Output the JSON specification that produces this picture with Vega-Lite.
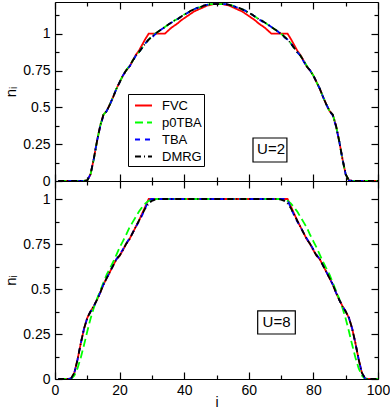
{
  "$schema": "https://vega.github.io/schema/vega-lite/v6.json",
  "padding": {"left": 3, "top": 1, "right": 5, "bottom": 0},
  "config": {
    "view": {"stroke": null},
    "font": "Liberation Sans",
    "axis": {
      "domainColor": "black", "tickColor": "black", "labelColor": "black", "titleColor": "black",
      "labelFont": "Liberation Sans", "titleFont": "Liberation Sans", "labelFontSize": 14, "titleFontSize": 15,
      "titleFontWeight": "normal", "grid": false, "domainWidth": 1.2, "tickWidth": 1.2,
      "labelOverlap": false, "labelFlush": false, "minExtent": 0
    }
  },
  "datasets": {
    "u2": [
      {"i":1,"FVC":0,"p0TBA":0,"TBA":0,"DMRG":0},
      {"i":2,"FVC":0,"p0TBA":0,"TBA":0,"DMRG":0},
      {"i":3,"FVC":0,"p0TBA":0,"TBA":0,"DMRG":0},
      {"i":4,"FVC":0,"p0TBA":0,"TBA":0,"DMRG":0},
      {"i":5,"FVC":0,"p0TBA":0,"TBA":0,"DMRG":0},
      {"i":6,"FVC":0,"p0TBA":0,"TBA":0,"DMRG":0},
      {"i":7,"FVC":0,"p0TBA":0,"TBA":0,"DMRG":0},
      {"i":8,"FVC":0,"p0TBA":0,"TBA":0,"DMRG":0},
      {"i":9,"FVC":0,"p0TBA":0,"TBA":0,"DMRG":0},
      {"i":10,"FVC":0.005,"p0TBA":0.005,"TBA":0.005,"DMRG":0.005},
      {"i":11,"FVC":0.045,"p0TBA":0.045,"TBA":0.045,"DMRG":0.045},
      {"i":12,"FVC":0.15,"p0TBA":0.145,"TBA":0.15,"DMRG":0.15},
      {"i":13,"FVC":0.27,"p0TBA":0.27,"TBA":0.27,"DMRG":0.27},
      {"i":14,"FVC":0.375,"p0TBA":0.375,"TBA":0.37,"DMRG":0.375},
      {"i":15,"FVC":0.45,"p0TBA":0.45,"TBA":0.445,"DMRG":0.45},
      {"i":16,"FVC":0.475,"p0TBA":0.475,"TBA":0.475,"DMRG":0.475},
      {"i":17,"FVC":0.52,"p0TBA":0.52,"TBA":0.52,"DMRG":0.52},
      {"i":18,"FVC":0.57,"p0TBA":0.57,"TBA":0.57,"DMRG":0.57},
      {"i":19,"FVC":0.625,"p0TBA":0.625,"TBA":0.625,"DMRG":0.625},
      {"i":20,"FVC":0.67,"p0TBA":0.67,"TBA":0.67,"DMRG":0.67},
      {"i":21,"FVC":0.715,"p0TBA":0.715,"TBA":0.715,"DMRG":0.715},
      {"i":22,"FVC":0.75,"p0TBA":0.75,"TBA":0.75,"DMRG":0.75},
      {"i":23,"FVC":0.775,"p0TBA":0.78,"TBA":0.775,"DMRG":0.775},
      {"i":24,"FVC":0.815,"p0TBA":0.815,"TBA":0.81,"DMRG":0.815},
      {"i":25,"FVC":0.855,"p0TBA":0.85,"TBA":0.85,"DMRG":0.85},
      {"i":26,"FVC":0.885,"p0TBA":0.875,"TBA":0.875,"DMRG":0.875},
      {"i":27,"FVC":0.925,"p0TBA":0.905,"TBA":0.905,"DMRG":0.905},
      {"i":28,"FVC":0.965,"p0TBA":0.935,"TBA":0.935,"DMRG":0.935},
      {"i":29,"FVC":1,"p0TBA":0.96,"TBA":0.96,"DMRG":0.96},
      {"i":30,"FVC":1,"p0TBA":0.98,"TBA":0.975,"DMRG":0.98},
      {"i":31,"FVC":1,"p0TBA":1,"TBA":0.995,"DMRG":1},
      {"i":32,"FVC":1,"p0TBA":1.015,"TBA":1.015,"DMRG":1.015},
      {"i":33,"FVC":1,"p0TBA":1.03,"TBA":1.03,"DMRG":1.03},
      {"i":34,"FVC":1,"p0TBA":1.045,"TBA":1.045,"DMRG":1.045},
      {"i":35,"FVC":1.02,"p0TBA":1.06,"TBA":1.06,"DMRG":1.06},
      {"i":36,"FVC":1.04,"p0TBA":1.075,"TBA":1.075,"DMRG":1.075},
      {"i":37,"FVC":1.055,"p0TBA":1.09,"TBA":1.085,"DMRG":1.09},
      {"i":38,"FVC":1.07,"p0TBA":1.1,"TBA":1.1,"DMRG":1.1},
      {"i":39,"FVC":1.09,"p0TBA":1.115,"TBA":1.115,"DMRG":1.115},
      {"i":40,"FVC":1.105,"p0TBA":1.13,"TBA":1.13,"DMRG":1.13},
      {"i":41,"FVC":1.12,"p0TBA":1.14,"TBA":1.14,"DMRG":1.14},
      {"i":42,"FVC":1.135,"p0TBA":1.155,"TBA":1.155,"DMRG":1.155},
      {"i":43,"FVC":1.15,"p0TBA":1.165,"TBA":1.165,"DMRG":1.165},
      {"i":44,"FVC":1.16,"p0TBA":1.175,"TBA":1.175,"DMRG":1.175},
      {"i":45,"FVC":1.17,"p0TBA":1.18,"TBA":1.18,"DMRG":1.18},
      {"i":46,"FVC":1.18,"p0TBA":1.19,"TBA":1.19,"DMRG":1.19},
      {"i":47,"FVC":1.19,"p0TBA":1.195,"TBA":1.195,"DMRG":1.195},
      {"i":48,"FVC":1.195,"p0TBA":1.2,"TBA":1.2,"DMRG":1.2},
      {"i":49,"FVC":1.2,"p0TBA":1.2,"TBA":1.2,"DMRG":1.2},
      {"i":50,"FVC":1.2,"p0TBA":1.2,"TBA":1.2,"DMRG":1.2},
      {"i":51,"FVC":1.2,"p0TBA":1.2,"TBA":1.2,"DMRG":1.2},
      {"i":52,"FVC":1.2,"p0TBA":1.2,"TBA":1.2,"DMRG":1.2},
      {"i":53,"FVC":1.195,"p0TBA":1.2,"TBA":1.2,"DMRG":1.2},
      {"i":54,"FVC":1.19,"p0TBA":1.195,"TBA":1.195,"DMRG":1.195},
      {"i":55,"FVC":1.18,"p0TBA":1.19,"TBA":1.19,"DMRG":1.19},
      {"i":56,"FVC":1.17,"p0TBA":1.18,"TBA":1.18,"DMRG":1.18},
      {"i":57,"FVC":1.16,"p0TBA":1.175,"TBA":1.175,"DMRG":1.175},
      {"i":58,"FVC":1.15,"p0TBA":1.165,"TBA":1.165,"DMRG":1.165},
      {"i":59,"FVC":1.135,"p0TBA":1.155,"TBA":1.155,"DMRG":1.155},
      {"i":60,"FVC":1.12,"p0TBA":1.14,"TBA":1.14,"DMRG":1.14},
      {"i":61,"FVC":1.105,"p0TBA":1.13,"TBA":1.13,"DMRG":1.13},
      {"i":62,"FVC":1.09,"p0TBA":1.115,"TBA":1.115,"DMRG":1.115},
      {"i":63,"FVC":1.07,"p0TBA":1.1,"TBA":1.1,"DMRG":1.1},
      {"i":64,"FVC":1.055,"p0TBA":1.09,"TBA":1.085,"DMRG":1.09},
      {"i":65,"FVC":1.04,"p0TBA":1.075,"TBA":1.075,"DMRG":1.075},
      {"i":66,"FVC":1.02,"p0TBA":1.06,"TBA":1.06,"DMRG":1.06},
      {"i":67,"FVC":1,"p0TBA":1.045,"TBA":1.045,"DMRG":1.045},
      {"i":68,"FVC":1,"p0TBA":1.03,"TBA":1.03,"DMRG":1.03},
      {"i":69,"FVC":1,"p0TBA":1.015,"TBA":1.015,"DMRG":1.015},
      {"i":70,"FVC":1,"p0TBA":1,"TBA":0.995,"DMRG":1},
      {"i":71,"FVC":1,"p0TBA":0.98,"TBA":0.975,"DMRG":0.98},
      {"i":72,"FVC":1,"p0TBA":0.96,"TBA":0.96,"DMRG":0.96},
      {"i":73,"FVC":0.965,"p0TBA":0.935,"TBA":0.935,"DMRG":0.935},
      {"i":74,"FVC":0.925,"p0TBA":0.905,"TBA":0.905,"DMRG":0.905},
      {"i":75,"FVC":0.885,"p0TBA":0.875,"TBA":0.875,"DMRG":0.875},
      {"i":76,"FVC":0.855,"p0TBA":0.85,"TBA":0.85,"DMRG":0.85},
      {"i":77,"FVC":0.815,"p0TBA":0.815,"TBA":0.81,"DMRG":0.815},
      {"i":78,"FVC":0.775,"p0TBA":0.78,"TBA":0.775,"DMRG":0.775},
      {"i":79,"FVC":0.75,"p0TBA":0.75,"TBA":0.75,"DMRG":0.75},
      {"i":80,"FVC":0.715,"p0TBA":0.715,"TBA":0.715,"DMRG":0.715},
      {"i":81,"FVC":0.67,"p0TBA":0.67,"TBA":0.67,"DMRG":0.67},
      {"i":82,"FVC":0.625,"p0TBA":0.625,"TBA":0.625,"DMRG":0.625},
      {"i":83,"FVC":0.57,"p0TBA":0.57,"TBA":0.57,"DMRG":0.57},
      {"i":84,"FVC":0.52,"p0TBA":0.52,"TBA":0.52,"DMRG":0.52},
      {"i":85,"FVC":0.475,"p0TBA":0.475,"TBA":0.475,"DMRG":0.475},
      {"i":86,"FVC":0.45,"p0TBA":0.45,"TBA":0.445,"DMRG":0.45},
      {"i":87,"FVC":0.375,"p0TBA":0.375,"TBA":0.37,"DMRG":0.375},
      {"i":88,"FVC":0.27,"p0TBA":0.27,"TBA":0.27,"DMRG":0.27},
      {"i":89,"FVC":0.15,"p0TBA":0.145,"TBA":0.15,"DMRG":0.15},
      {"i":90,"FVC":0.045,"p0TBA":0.045,"TBA":0.045,"DMRG":0.045},
      {"i":91,"FVC":0.005,"p0TBA":0.005,"TBA":0.005,"DMRG":0.005},
      {"i":92,"FVC":0,"p0TBA":0,"TBA":0,"DMRG":0},
      {"i":93,"FVC":0,"p0TBA":0,"TBA":0,"DMRG":0},
      {"i":94,"FVC":0,"p0TBA":0,"TBA":0,"DMRG":0},
      {"i":95,"FVC":0,"p0TBA":0,"TBA":0,"DMRG":0},
      {"i":96,"FVC":0,"p0TBA":0,"TBA":0,"DMRG":0},
      {"i":97,"FVC":0,"p0TBA":0,"TBA":0,"DMRG":0},
      {"i":98,"FVC":0,"p0TBA":0,"TBA":0,"DMRG":0},
      {"i":99,"FVC":0,"p0TBA":0,"TBA":0,"DMRG":0},
      {"i":100,"FVC":0,"p0TBA":0,"TBA":0,"DMRG":0}
    ],
    "u8": [
      {"i":1,"FVC":0,"p0TBA":0,"TBA":0,"DMRG":0},
      {"i":2,"FVC":0,"p0TBA":0,"TBA":0,"DMRG":0},
      {"i":3,"FVC":0,"p0TBA":0,"TBA":0,"DMRG":0},
      {"i":4,"FVC":0,"p0TBA":0,"TBA":0,"DMRG":0},
      {"i":5,"FVC":0.003,"p0TBA":0,"TBA":0.003,"DMRG":0.003},
      {"i":6,"FVC":0.035,"p0TBA":0.02,"TBA":0.035,"DMRG":0.035},
      {"i":7,"FVC":0.11,"p0TBA":0.06,"TBA":0.11,"DMRG":0.11},
      {"i":8,"FVC":0.2,"p0TBA":0.12,"TBA":0.2,"DMRG":0.2},
      {"i":9,"FVC":0.28,"p0TBA":0.19,"TBA":0.28,"DMRG":0.28},
      {"i":10,"FVC":0.34,"p0TBA":0.265,"TBA":0.34,"DMRG":0.34},
      {"i":11,"FVC":0.375,"p0TBA":0.335,"TBA":0.375,"DMRG":0.375},
      {"i":12,"FVC":0.405,"p0TBA":0.395,"TBA":0.405,"DMRG":0.405},
      {"i":13,"FVC":0.44,"p0TBA":0.445,"TBA":0.44,"DMRG":0.44},
      {"i":14,"FVC":0.48,"p0TBA":0.49,"TBA":0.48,"DMRG":0.48},
      {"i":15,"FVC":0.525,"p0TBA":0.535,"TBA":0.525,"DMRG":0.525},
      {"i":16,"FVC":0.56,"p0TBA":0.58,"TBA":0.56,"DMRG":0.56},
      {"i":17,"FVC":0.595,"p0TBA":0.615,"TBA":0.595,"DMRG":0.595},
      {"i":18,"FVC":0.63,"p0TBA":0.65,"TBA":0.63,"DMRG":0.63},
      {"i":19,"FVC":0.665,"p0TBA":0.69,"TBA":0.665,"DMRG":0.665},
      {"i":20,"FVC":0.685,"p0TBA":0.73,"TBA":0.69,"DMRG":0.685},
      {"i":21,"FVC":0.715,"p0TBA":0.765,"TBA":0.72,"DMRG":0.715},
      {"i":22,"FVC":0.75,"p0TBA":0.8,"TBA":0.75,"DMRG":0.75},
      {"i":23,"FVC":0.775,"p0TBA":0.84,"TBA":0.78,"DMRG":0.775},
      {"i":24,"FVC":0.81,"p0TBA":0.87,"TBA":0.81,"DMRG":0.81},
      {"i":25,"FVC":0.845,"p0TBA":0.9,"TBA":0.845,"DMRG":0.845},
      {"i":26,"FVC":0.88,"p0TBA":0.93,"TBA":0.875,"DMRG":0.88},
      {"i":27,"FVC":0.92,"p0TBA":0.955,"TBA":0.91,"DMRG":0.915},
      {"i":28,"FVC":0.96,"p0TBA":0.975,"TBA":0.95,"DMRG":0.95},
      {"i":29,"FVC":1,"p0TBA":0.99,"TBA":0.995,"DMRG":0.975},
      {"i":30,"FVC":1,"p0TBA":0.997,"TBA":1,"DMRG":0.99},
      {"i":31,"FVC":1,"p0TBA":1,"TBA":1,"DMRG":0.997},
      {"i":32,"FVC":1,"p0TBA":1,"TBA":1,"DMRG":1},
      {"i":40,"FVC":1,"p0TBA":1,"TBA":1,"DMRG":1},
      {"i":50,"FVC":1,"p0TBA":1,"TBA":1,"DMRG":1},
      {"i":60,"FVC":1,"p0TBA":1,"TBA":1,"DMRG":1},
      {"i":69,"FVC":1,"p0TBA":1,"TBA":1,"DMRG":1},
      {"i":70,"FVC":1,"p0TBA":1,"TBA":1,"DMRG":0.997},
      {"i":71,"FVC":1,"p0TBA":0.997,"TBA":1,"DMRG":0.99},
      {"i":72,"FVC":1,"p0TBA":0.99,"TBA":0.995,"DMRG":0.975},
      {"i":73,"FVC":0.96,"p0TBA":0.975,"TBA":0.95,"DMRG":0.95},
      {"i":74,"FVC":0.92,"p0TBA":0.955,"TBA":0.91,"DMRG":0.915},
      {"i":75,"FVC":0.88,"p0TBA":0.93,"TBA":0.875,"DMRG":0.88},
      {"i":76,"FVC":0.845,"p0TBA":0.9,"TBA":0.845,"DMRG":0.845},
      {"i":77,"FVC":0.81,"p0TBA":0.87,"TBA":0.81,"DMRG":0.81},
      {"i":78,"FVC":0.775,"p0TBA":0.84,"TBA":0.78,"DMRG":0.775},
      {"i":79,"FVC":0.75,"p0TBA":0.8,"TBA":0.75,"DMRG":0.75},
      {"i":80,"FVC":0.715,"p0TBA":0.765,"TBA":0.72,"DMRG":0.715},
      {"i":81,"FVC":0.685,"p0TBA":0.73,"TBA":0.69,"DMRG":0.685},
      {"i":82,"FVC":0.665,"p0TBA":0.69,"TBA":0.665,"DMRG":0.665},
      {"i":83,"FVC":0.63,"p0TBA":0.65,"TBA":0.63,"DMRG":0.63},
      {"i":84,"FVC":0.595,"p0TBA":0.615,"TBA":0.595,"DMRG":0.595},
      {"i":85,"FVC":0.56,"p0TBA":0.58,"TBA":0.56,"DMRG":0.56},
      {"i":86,"FVC":0.525,"p0TBA":0.535,"TBA":0.525,"DMRG":0.525},
      {"i":87,"FVC":0.48,"p0TBA":0.49,"TBA":0.48,"DMRG":0.48},
      {"i":88,"FVC":0.44,"p0TBA":0.445,"TBA":0.44,"DMRG":0.44},
      {"i":89,"FVC":0.405,"p0TBA":0.395,"TBA":0.405,"DMRG":0.405},
      {"i":90,"FVC":0.375,"p0TBA":0.335,"TBA":0.375,"DMRG":0.375},
      {"i":91,"FVC":0.34,"p0TBA":0.265,"TBA":0.34,"DMRG":0.34},
      {"i":92,"FVC":0.28,"p0TBA":0.19,"TBA":0.28,"DMRG":0.28},
      {"i":93,"FVC":0.2,"p0TBA":0.12,"TBA":0.2,"DMRG":0.2},
      {"i":94,"FVC":0.11,"p0TBA":0.06,"TBA":0.11,"DMRG":0.11},
      {"i":95,"FVC":0.035,"p0TBA":0.02,"TBA":0.035,"DMRG":0.035},
      {"i":96,"FVC":0.003,"p0TBA":0,"TBA":0.003,"DMRG":0.003},
      {"i":97,"FVC":0,"p0TBA":0,"TBA":0,"DMRG":0},
      {"i":98,"FVC":0,"p0TBA":0,"TBA":0,"DMRG":0},
      {"i":99,"FVC":0,"p0TBA":0,"TBA":0,"DMRG":0},
      {"i":100,"FVC":0,"p0TBA":0,"TBA":0,"DMRG":0}
    ]
  },
  "spacing": 0,
  "bounds": "flush",
  "resolve": {"legend": {"color": "independent", "strokeDash": "independent"}},
  "vconcat": [
    {
      "width": 323,
      "height": 179,
      "layer": [
        {
          "data": {"name": "u2"},
          "transform": [{"fold": ["FVC", "p0TBA", "TBA", "DMRG"], "as": ["method", "n"]}],
          "mark": {"type": "line", "strokeWidth": 1.8, "clip": true},
          "encoding": {
            "x": {"field": "i", "type": "quantitative",
              "scale": {"domain": [0, 100], "nice": false, "zero": false},
              "axis": {"orient": "bottom", "values": [0,10,20,30,40,50,60,70,80,90,100], "labels": false, "title": null,
                "tickSize": {"condition": {"test": "datum.value % 20 != 0", "value": -4}, "value": -7}}},
            "y": {"field": "n", "type": "quantitative",
              "scale": {"domain": [0, 1.215], "nice": false},
              "axis": {"orient": "left", "values": [0,0.125,0.25,0.375,0.5,0.625,0.75,0.875,1,1.125],
                "labelExpr": "datum.value % 0.25 == 0 ? '' + datum.value : ''", "title": "nᵢ", "labelPadding": 12,
                "tickSize": {"condition": {"test": "datum.value % 0.25 != 0", "value": -4}, "value": -7}}},
            "color": {"field": "method", "type": "nominal",
              "scale": {"domain": ["FVC", "p0TBA", "TBA", "DMRG"], "range": ["#ff0000", "#00ff00", "#0000ff", "#000000"]},
              "legend": {"orient": "none", "legendX": 73, "legendY": 92, "title": null, "symbolType": "stroke", "symbolSize": 289,
                "symbolStrokeWidth": 2, "labelFontSize": 13, "labelFont": "Liberation Sans", "labelColor": "black",
                "strokeColor": "black", "fillColor": "white", "padding": 2, "rowPadding": 0, "labelOffset": 9, "symbolOffset": 4}},
            "strokeDash": {"field": "method", "type": "nominal",
              "scale": {"domain": ["FVC", "p0TBA", "TBA", "DMRG"], "range": [[1, 0], [8, 4], [5, 5], [6, 3, 1, 3]]},
              "legend": {"orient": "none", "legendX": 73, "legendY": 92, "title": null, "symbolType": "stroke", "symbolSize": 289,
                "symbolStrokeWidth": 2, "labelFontSize": 13, "labelFont": "Liberation Sans", "labelColor": "black",
                "strokeColor": "black", "fillColor": "white", "padding": 2, "rowPadding": 0, "labelOffset": 9, "symbolOffset": 4}}
          }
        },
        {
          "data": {"values": [{}]},
          "mark": {"type": "rect", "fill": "white", "stroke": "black", "strokeWidth": 1.2},
          "encoding": {
            "x": {"datum": 61.3, "type": "quantitative",
              "axis": {"orient": "top", "values": [0,10,20,30,40,50,60,70,80,90,100], "labels": false, "title": null,
                "tickSize": {"condition": {"test": "datum.value % 20 != 0", "value": -4}, "value": -7}}},
            "x2": {"datum": 71.8},
            "y": {"datum": 0.129, "type": "quantitative",
              "axis": {"orient": "right", "values": [0,0.125,0.25,0.375,0.5,0.625,0.75,0.875,1,1.125], "labels": false, "title": null,
                "tickSize": {"condition": {"test": "datum.value % 0.25 != 0", "value": -4}, "value": -7}}},
            "y2": {"datum": 0.292}
          }
        },
        {
          "data": {"values": [{}]},
          "mark": {"type": "text", "fontSize": 15, "font": "Liberation Sans", "color": "black", "baseline": "middle"},
          "encoding": {
            "x": {"datum": 66.9, "type": "quantitative", "axis": null},
            "y": {"datum": 0.215, "type": "quantitative", "axis": null},
            "text": {"value": "U=2"}
          }
        }
      ],
      "resolve": {"axis": {"x": "independent", "y": "independent"}}
    },
    {
      "width": 323,
      "height": 198,
      "layer": [
        {
          "data": {"name": "u8"},
          "transform": [{"fold": ["FVC", "p0TBA", "TBA", "DMRG"], "as": ["method", "n"]}],
          "mark": {"type": "line", "strokeWidth": 1.8, "clip": true},
          "encoding": {
            "x": {"field": "i", "type": "quantitative",
              "scale": {"domain": [0, 100], "nice": false, "zero": false},
              "axis": {"orient": "bottom", "values": [0,10,20,30,40,50,60,70,80,90,100],
                "labelExpr": "datum.value % 20 == 0 ? '' + datum.value : ''", "title": "i", "titleFontSize": 14,
                "labelPadding": 11, "titleY": 27, "titleBaseline": "alphabetic",
                "tickSize": {"condition": {"test": "datum.value % 20 != 0", "value": -4}, "value": -7}}},
            "y": {"field": "n", "type": "quantitative",
              "scale": {"domain": [0, 1.1], "nice": false},
              "axis": {"orient": "left", "values": [0,0.125,0.25,0.375,0.5,0.625,0.75,0.875,1],
                "labelExpr": "datum.value % 0.25 == 0 ? '' + datum.value : ''", "title": "nᵢ", "labelPadding": 12,
                "tickSize": {"condition": {"test": "datum.value % 0.25 != 0", "value": -4}, "value": -7}}},
            "color": {"field": "method", "type": "nominal",
              "scale": {"domain": ["FVC", "p0TBA", "TBA", "DMRG"], "range": ["#ff0000", "#00ff00", "#0000ff", "#000000"]},
              "legend": null},
            "strokeDash": {"field": "method", "type": "nominal",
              "scale": {"domain": ["FVC", "p0TBA", "TBA", "DMRG"], "range": [[1, 0], [8, 4], [5, 5], [6, 3, 1, 3]]},
              "legend": null}
          }
        },
        {
          "data": {"values": [{}]},
          "mark": {"type": "rect", "fill": "white", "stroke": "black", "strokeWidth": 1.2},
          "encoding": {
            "x": {"datum": 62.75, "type": "quantitative",
              "axis": {"orient": "top", "values": [0,10,20,30,40,50,60,70,80,90,100], "labels": false, "title": null,
                "tickSize": {"condition": {"test": "datum.value % 20 != 0", "value": -4}, "value": -7}}},
            "x2": {"datum": 74.4},
            "y": {"datum": 0.25, "type": "quantitative",
              "axis": {"orient": "right", "values": [0,0.125,0.25,0.375,0.5,0.625,0.75,0.875,1], "labels": false, "title": null,
                "tickSize": {"condition": {"test": "datum.value % 0.25 != 0", "value": -4}, "value": -7}}},
            "y2": {"datum": 0.378}
          }
        },
        {
          "data": {"values": [{}]},
          "mark": {"type": "text", "fontSize": 15, "font": "Liberation Sans", "color": "black", "baseline": "middle"},
          "encoding": {
            "x": {"datum": 68.6, "type": "quantitative", "axis": null},
            "y": {"datum": 0.314, "type": "quantitative", "axis": null},
            "text": {"value": "U=8"}
          }
        }
      ],
      "resolve": {"axis": {"x": "independent", "y": "independent"}}
    }
  ]
}
